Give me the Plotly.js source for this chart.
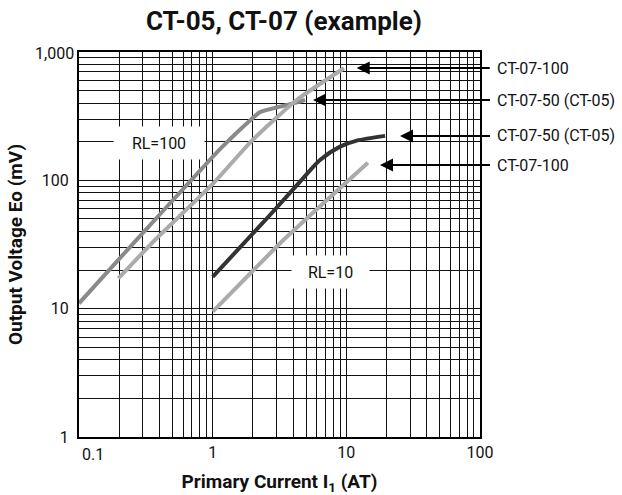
<!DOCTYPE html>
<html>
<head>
<meta charset="utf-8">
<script src="https://cdn.plot.ly/plotly-3.0.1.min.js"></script>
<style>html,body{margin:0;padding:0;background:#fff;}#chart{width:622px;height:495px;}</style>
</head>
<body>
<div id="chart"></div>
<script>
// ---- Data ----
// RL = 100, CT-07-50 (CT-05)  (medium gray, bends near saturation)
const rl100_ct0750_x = [0.1, 0.255, 0.804, 1.134, 1.903, 2.26, 3.19, 4.50, 4.91];
const rl100_ct0750_y = [11.0, 32.3, 119, 175, 293, 340, 375, 410, 423];
// RL = 100, CT-07-100 (light gray)
const rl100_ct07100_x = [0.197, 0.370, 1.011, 1.96, 4.25, 9.61];
const rl100_ct07100_y = [17.2, 34.3, 94.8, 203, 423, 747];
// RL = 10, CT-07-50 (CT-05) (dark)
const rl10_ct0750_x = [1.0, 2.685, 4.74, 6.35, 8.97, 11.97, 19.5];
const rl10_ct0750_y = [17.7, 53.7, 103.7, 144, 183, 204, 222];
// RL = 10, CT-07-100 (light gray)
const rl10_ct07100_x = [1.0, 3.38, 14.5];
const rl10_ct07100_y = [9.47, 34.3, 137.3];

// Axis ticks (0.1 and 1,000 are drawn as separate labels, shifted as in the reference)
const xTickVals = [1, 10, 100];
const xTickText = ['1', '10', '100'];
const yTickVals = [1, 10, 100];
const yTickText = ['1', '10', '100'];

// Right side labels (top to bottom)
const calloutLabels = ['CT-07-100', 'CT-07-50 (CT-05)', 'CT-07-50 (CT-05)', 'CT-07-100'];

const FONT = 'Roboto, "Noto Sans", sans-serif';

function minorVals(d0, d1) {
  const v = [];
  for (let d = d0; d < d1; d++) for (let k = 2; k <= 9; k++) v.push(k * Math.pow(10, d));
  return v;
}

const traces = [
  {x: rl100_ct0750_x, y: rl100_ct0750_y, mode: 'lines', line: {color: '#8a8a8a', width: 4, shape: 'spline', smoothing: 0.5}},
  {x: rl100_ct07100_x, y: rl100_ct07100_y, mode: 'lines', line: {color: '#ababab', width: 4, shape: 'spline', smoothing: 0.5}},
  {x: rl10_ct0750_x, y: rl10_ct0750_y, mode: 'lines', line: {color: '#333333', width: 4, shape: 'spline', smoothing: 0.7}},
  {x: rl10_ct07100_x, y: rl10_ct07100_y, mode: 'lines', line: {color: '#ababab', width: 4, shape: 'spline', smoothing: 0.3}}
];

// arrow tips (log10 units) and pixel offsets to the tail
const arrowTips = [[1.0776, 2.875, 133], [0.7506, 2.626, 177], [1.4015, 2.3455, 90], [1.2518, 2.1195, 110]];

const annotations = [];
arrowTips.forEach((t, i) => {
  annotations.push({x: t[0], y: t[1], xref: 'x', yref: 'y', text: calloutLabels[i], showarrow: true,
    ax: t[2], ay: 0, xanchor: 'left', yanchor: 'middle', borderpad: 6,
    arrowhead: 2, arrowsize: 1.3, arrowwidth: 2, arrowcolor: '#000',
    font: {family: FONT, size: 16, color: '#111'}});
});
annotations.push({x: -0.4015, y: 2.29, xref: 'x', yref: 'y', text: 'RL=100', showarrow: false,
  bgcolor: '#fff', width: 88, height: 30, font: {family: FONT, size: 16, color: '#111'}});
annotations.push({x: 0.878, y: 1.286, xref: 'x', yref: 'y', text: 'RL=10', showarrow: false,
  bgcolor: '#fff', width: 75, height: 30, font: {family: FONT, size: 16, color: '#111'}});
annotations.push({x: 0.002, y: -0.016, xref: 'paper', yref: 'paper', text: '0.1', showarrow: false,
  xanchor: 'left', yanchor: 'top', font: {family: FONT, size: 16, color: '#111'}});
annotations.push({x: -0.008, y: 0.995, xref: 'paper', yref: 'paper', text: '1,000', showarrow: false,
  xanchor: 'right', yanchor: 'middle', font: {family: FONT, size: 16, color: '#111'}});

const layout = {
  width: 622, height: 495, autosize: false,
  margin: {l: 79, r: 142, t: 52, b: 58, pad: 0},
  paper_bgcolor: '#fff', plot_bgcolor: '#fff',
  showlegend: false,
  title: {text: 'CT-05, CT-07 (example)', x: 0.511, xref: 'paper', xanchor: 'center',
    y: 0.958, yref: 'container', yanchor: 'middle',
    font: {family: FONT, size: 26, color: '#111', weight: 'bold'}},
  xaxis: {type: 'log', range: [-1, 2], tickmode: 'array', tickvals: xTickVals, ticktext: xTickText,
    title: {text: 'Primary Current I<sub>1</sub> (AT)', standoff: 14,
      font: {family: FONT, size: 19, color: '#111', weight: 'bold'}},
    automargin: false,
    showgrid: true, gridcolor: '#111', gridwidth: 1,
    minor: {tickmode: 'array', tickvals: minorVals(-1, 2), showgrid: true, gridcolor: '#111', gridwidth: 1, ticks: ''},
    showline: true, mirror: true, linecolor: '#000', linewidth: 2,
    ticks: '', zeroline: false,
    tickfont: {family: FONT, size: 16, color: '#111'}},
  yaxis: {type: 'log', range: [0, 3], tickmode: 'array', tickvals: yTickVals, ticktext: yTickText,
    title: {text: 'Output Voltage Eo (mV)', standoff: 14,
      font: {family: FONT, size: 19, color: '#111', weight: 'bold'}},
    automargin: false,
    showgrid: true, gridcolor: '#111', gridwidth: 1,
    minor: {tickmode: 'array', tickvals: minorVals(0, 3), showgrid: true, gridcolor: '#111', gridwidth: 1, ticks: ''},
    showline: true, mirror: true, linecolor: '#000', linewidth: 2,
    ticks: 'outside', ticklen: 5, tickcolor: 'rgba(0,0,0,0)', zeroline: false,
    tickfont: {family: FONT, size: 16, color: '#111'}},
  annotations: annotations
};

Plotly.newPlot('chart', traces, layout, {displayModeBar: false, staticPlot: true});
</script>
</body>
</html>
